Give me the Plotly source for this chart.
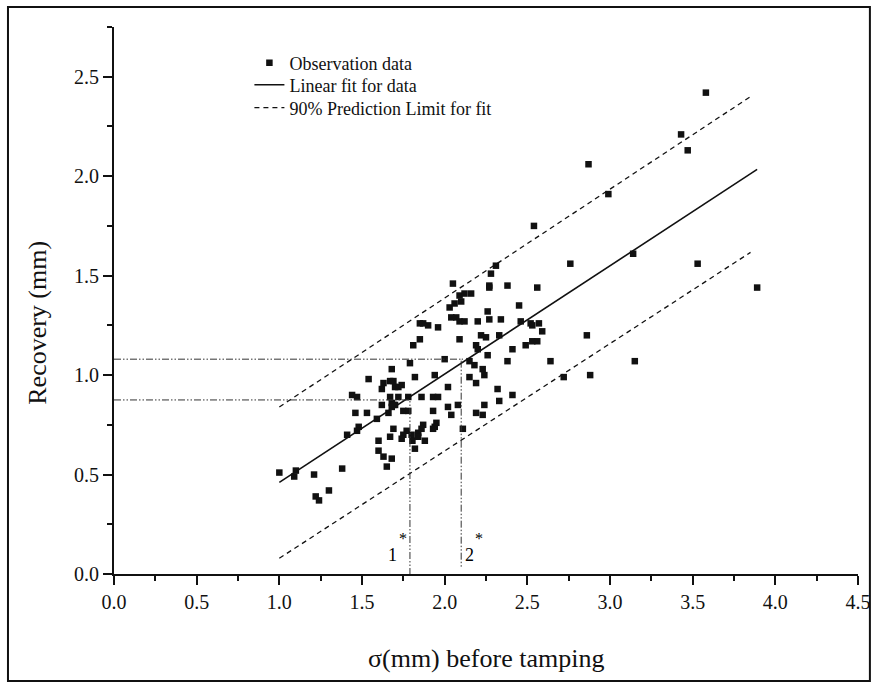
import plotly.graph_objects as go

# ---- data ----
obs_x = [1.00, 1.10, 1.09, 1.21, 1.22, 1.24, 1.30, 1.38, 1.41,
         1.44, 1.47, 1.46, 1.53, 1.48, 1.47, 1.54, 1.59, 1.60, 1.60, 1.63,
         1.65, 1.68, 1.62, 1.63, 1.67, 1.69, 1.68, 1.70, 1.72, 1.74,
         1.62, 1.66, 1.67, 1.72, 1.78, 1.68, 1.69, 1.70, 1.68, 1.75,
         1.78, 1.69, 1.67, 1.77, 1.75, 1.74, 1.80, 1.805, 1.84, 1.84,
         1.88, 1.82, 1.86, 1.93, 1.96, 1.93, 1.87, 1.86, 1.95, 1.94,
         1.93, 1.82, 1.94, 1.79, 1.81, 1.85, 1.85, 1.87, 1.90, 1.96,
         2.00, 2.02, 2.02, 2.04, 2.08, 2.11, 2.19, 2.23, 2.24, 2.33,
         2.32, 2.41, 2.15, 2.19, 2.23, 2.24, 2.15, 2.18, 2.38, 2.26,
         2.19, 2.20, 2.41, 2.09, 2.22, 2.25, 2.33, 2.04, 2.07, 2.09,
         2.12, 2.20, 2.27, 2.34, 2.46, 2.26, 2.03, 2.06, 2.10, 2.09,
         2.12, 2.16, 2.05, 2.27, 2.27, 2.38, 2.28, 2.31, 2.45, 2.52,
         2.53, 2.57, 2.59, 2.49, 2.53, 2.56, 2.56, 2.54, 2.64, 2.72,
         2.76, 2.86, 2.88, 2.87, 2.99, 3.14, 3.15, 3.43, 3.47, 3.53,
         3.58, 3.89]
obs_y = [0.51, 0.52, 0.49, 0.50, 0.39, 0.37, 0.42, 0.53, 0.70,
         0.90, 0.89, 0.81, 0.81, 0.74, 0.72, 0.98, 0.78, 0.67, 0.62, 0.59,
         0.54, 0.58, 0.93, 0.96, 0.97, 0.97, 1.03, 0.94, 0.94, 0.95,
         0.85, 0.81, 0.89, 0.89, 0.89, 0.86, 0.85, 0.85, 0.84, 0.82,
         0.82, 0.73, 0.69, 0.72, 0.70, 0.68, 0.70, 0.67, 0.71, 0.69,
         0.67, 0.63, 0.89, 0.89, 0.89, 0.82, 0.75, 0.73, 0.76, 0.74,
         0.73, 0.99, 1.00, 1.06, 1.15, 1.18, 1.26, 1.26, 1.25, 1.24,
         1.08, 0.94, 0.84, 0.80, 0.85, 0.73, 0.81, 0.80, 0.85, 0.87,
         0.93, 0.90, 0.99, 0.96, 1.03, 1.00, 1.07, 1.05, 1.07, 1.10,
         1.15, 1.13, 1.13, 1.18, 1.20, 1.19, 1.20, 1.29, 1.29, 1.27,
         1.27, 1.27, 1.28, 1.28, 1.27, 1.32, 1.34, 1.36, 1.37, 1.40,
         1.41, 1.41, 1.46, 1.45, 1.44, 1.45, 1.51, 1.55, 1.35, 1.26,
         1.25, 1.26, 1.22, 1.15, 1.17, 1.17, 1.44, 1.75, 1.07, 0.99,
         1.56, 1.20, 1.00, 2.06, 1.91, 1.61, 1.07, 2.21, 2.13, 1.56,
         2.42, 1.44]

fit_x = [1.00, 3.89]
fit_y = [0.461, 2.034]
upper_x = [1.00, 3.85]
upper_y = [0.84, 2.40]
lower_x = [1.00, 3.85]
lower_y = [0.079, 1.617]

guide1_x = [0.0, 1.79, 1.79]
guide1_y = [0.875, 0.875, 0.0]
guide2_x = [0.0, 2.11, 2.10, 2.10]
guide2_y = [1.08, 1.08, 1.08, 0.035]

x_ticks = [0.0, 0.5, 1.0, 1.5, 2.0, 2.5, 3.0, 3.5, 4.0, 4.5]
y_ticks = [0.0, 0.5, 1.0, 1.5, 2.0, 2.5]

FONT = "Liberation Serif"
INK = "#111111"

fig = go.Figure()

fig.add_trace(go.Scatter(
    x=obs_x, y=obs_y, mode="markers", name="Observation data", legend="legend",
    marker=dict(symbol="square", size=6.5, color=INK, line=dict(width=0)),
))
fig.add_trace(go.Scatter(
    x=fit_x, y=fit_y, mode="lines", name="Linear fit for data", legend="legend2",
    line=dict(color=INK, width=1.6),
))
fig.add_trace(go.Scatter(
    x=upper_x + [None] + lower_x, y=upper_y + [None] + lower_y,
    mode="lines", name="90% Prediction Limit for fit", legend="legend3",
    line=dict(color=INK, width=1.3, dash="5px,4px"),
))
for gx, gy in ((guide1_x, guide1_y), (guide2_x, guide2_y)):
    fig.add_trace(go.Scatter(
        x=gx, y=gy, mode="lines", showlegend=False, hoverinfo="skip",
        line=dict(color="#333333", width=1, dash="7px,2px,1.5px,2px,1.5px,2px"),
    ))

ann = []
ann.append(dict(text="1", x=1.685, y=0.095, xref="x", yref="y", showarrow=False,
                font=dict(family=FONT, size=18, color="#000000")))
ann.append(dict(text="*", x=1.748, y=0.18, xref="x", yref="y", showarrow=False,
                font=dict(family=FONT, size=16, color="#000000")))
ann.append(dict(text="2", x=2.148, y=0.095, xref="x", yref="y", showarrow=False,
                font=dict(family=FONT, size=18, color="#000000")))
ann.append(dict(text="*", x=2.21, y=0.18, xref="x", yref="y", showarrow=False,
                font=dict(family=FONT, size=16, color="#000000")))
ann.append(dict(text="Recovery (mm)", x=-0.103, y=0.46, xref="paper", yref="paper",
                textangle=-90, showarrow=False, xanchor="center", yanchor="middle",
                font=dict(family=FONT, size=26, color=INK)))
ann.append(dict(text="σ(mm) before tamping", x=0.5, y=-0.1536, xref="paper", yref="paper",
                showarrow=False, xanchor="center", yanchor="middle",
                font=dict(family=FONT, size=26, color=INK)))

axis_common = dict(
    showline=True, linewidth=2, linecolor=INK, mirror=False, automargin=False,
    ticks="outside", ticklen=9, tickwidth=2, tickcolor=INK,
    showgrid=False, zeroline=False, tickformat=".1f",
    tickfont=dict(family=FONT, size=20, color=INK),
    minor=dict(ticks="outside", ticklen=5, tickwidth=2, tickcolor=INK, showgrid=False),
)

leg_common = dict(xanchor="left", yanchor="middle", bgcolor="rgba(0,0,0,0)",
                  borderwidth=0, font=dict(family=FONT, size=18, color=INK))

fig.update_layout(
    width=878, height=688, autosize=False,
    margin=dict(l=114, r=20, t=27, b=114, autoexpand=False),
    paper_bgcolor="white", plot_bgcolor="white",
    font=dict(family=FONT, color=INK),
    xaxis=dict(range=[0, 4.5], tickvals=x_ticks, minor_dtick=0.25, **axis_common),
    yaxis=dict(range=[0, 2.75], tickvals=y_ticks, minor_dtick=0.25, **axis_common),
    legend=dict(x=0.182, y=0.934, **leg_common),
    legend2=dict(x=0.182, y=0.894, **leg_common),
    legend3=dict(x=0.182, y=0.852, **leg_common),
    annotations=ann,
    shapes=[dict(type="rect", xref="paper", yref="paper",
                 x0=-0.1425, x1=1.016, y0=-0.1956, y1=1.0366,
                 line=dict(color=INK, width=2), fillcolor="rgba(0,0,0,0)")],
)

fig.write_html("out.html", config={"displayModeBar": False},
               post_script="document.body.style.margin='0';document.body.style.overflow='hidden';")
